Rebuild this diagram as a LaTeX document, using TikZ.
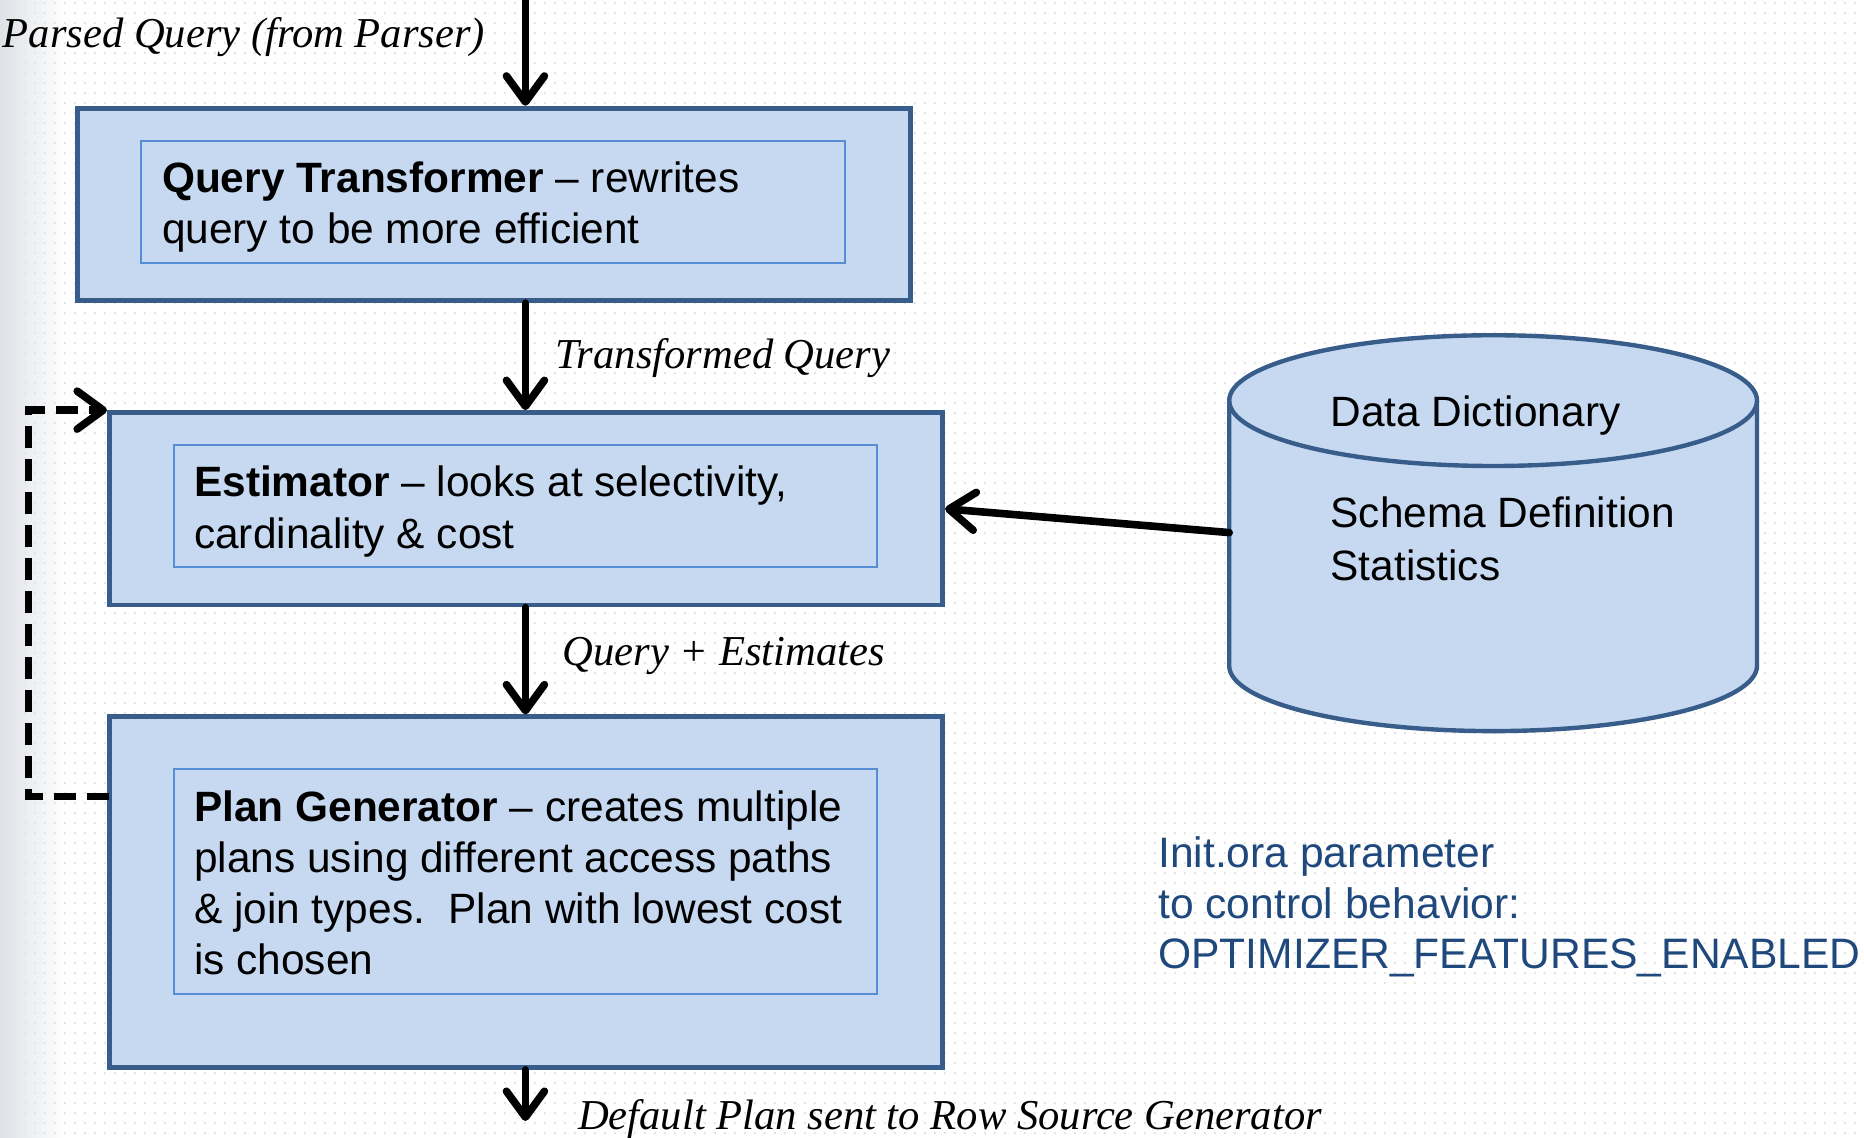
\documentclass[tikz,border=0pt]{standalone}
\usepackage{fontspec}
\setmainfont{Liberation Sans}
\newfontfamily\labelfont{Liberation Serif}
\usetikzlibrary{arrows.meta,patterns.meta,calc}
\definecolor{boxfill}{RGB}{198,217,241}
\definecolor{boxline}{RGB}{56,93,138}
\definecolor{innerline}{RGB}{85,142,213}
\definecolor{notecol}{RGB}{31,73,125}
\definecolor{edgegray}{RGB}{222,225,230}
\def\u{0.5944pt}
\tikzdeclarepattern{
  name=bgdots,
  type=uncolored,
  bounding box={(0pt,0pt) and (5pt,5pt)},
  tile size={(5pt,5pt)},
  code={\fill (2pt,2pt) rectangle (3pt,3pt);}
}
\tikzset{
  outerbox/.style={draw=boxline, line width=2.4pt, fill=boxfill, inner sep=0pt, minimum width=701*\u},
  innerbox/.style={draw=innerline, line width=1pt, fill=boxfill, inner sep=0pt, minimum width=592*\u},
  txt/.style={anchor=base west, inner sep=0pt, font=\fontsize{21.2}{25.5}\selectfont},
  lbl/.style={anchor=base west, inner sep=0pt, font=\fontsize{21.3}{25.5}\selectfont\labelfont\itshape},
  note/.style={txt, font=\fontsize{21.3}{25.5}\selectfont, text=notecol},
  flow/.style={line width=3.8pt, line cap=round, -{Straight Barb[length=13pt,width=19pt,round]}},
  feedback/.style={flow, line cap=butt, dash pattern=on 11pt off 5.5pt},
}
\begin{document}
\begin{tikzpicture}[x=0.5944pt,y=-0.5944pt]
\useasboundingbox (0,0) rectangle (1568,957);
% background
\fill[white] (0,0) rectangle (1568,957);
\shade[left color=edgegray, right color=white] (0,0) rectangle (55,957);
\fill[pattern=bgdots, pattern color=black!10] (0,0) rectangle (1568,957);

% boxes
\node[outerbox, minimum height=162*\u] (qt) at (415.5,172) {};
\node[innerbox, minimum height=102*\u] (qti) at (415,170) {};
\node[txt] (qt1) at (136,162) {\textbf{Query Transformer} -- rewrites};
\node[txt] (qt2) at (136,205) {query to be more efficient};

\node[outerbox, minimum height=162*\u] (est) at (442.5,428) {};
\node[innerbox, minimum height=103*\u] (esti) at (442,425.5) {};
\node[txt] (est1) at (163,418) {\textbf{Estimator} -- looks at selectivity,};
\node[txt] (est2) at (163,461) {cardinality \& cost};

\node[outerbox, minimum height=295*\u] (pg) at (442.5,750.5) {};
\node[innerbox, minimum height=189*\u] (pgi) at (442,741.5) {};
\node[txt] (pg1) at (163,691) {\textbf{Plan Generator} -- creates multiple};
\node[txt] (pg2) at (163,734) {plans using different access paths};
\node[txt] (pg3) at (163,777) {\& join types.\ \ Plan with lowest cost};
\node[txt] (pg4) at (163,820) {is chosen};

% cylinder
\fill[boxfill] (1034,337) -- (1034,560)
  arc[start angle=180, end angle=0, x radius=222, y radius=55]
  -- (1478,337)
  arc[start angle=0, end angle=-180, x radius=222, y radius=55] -- cycle;
\draw[boxline, line width=2.2pt] (1034,337) -- (1034,560)
  arc[start angle=180, end angle=0, x radius=222, y radius=55]
  -- (1478,337);
\draw[boxline, line width=2.2pt] (1256,337) ellipse[x radius=222, y radius=55];
\coordinate (dd) at (1034,448);
\node[txt] (dd1) at (1119,359) {Data Dictionary};
\node[txt] (dd2) at (1119,444) {Schema Definition};
\node[txt] (dd3) at (1119,488) {Statistics};

% note
\node[note] (n1) at (974,730) {Init.ora parameter};
\node[note] (n2) at (974,773) {to control behavior:};
\node[note] (n3) at (974,815) {OPTIMIZER\_FEATURES\_ENABLED};

% labels
\node[lbl] (l0) at (2,40) {Parsed Query (from Parser)};
\node[lbl] (l1) at (467,310) {Transformed Query};
\node[lbl] (l2) at (473,560) {Query + Estimates};
\node[lbl] (l3) at (486,950) {Default Plan sent to Row Source Generator};

% connectors
\coordinate (in) at (442,-3);
\coordinate (out) at (442,943);
\coordinate (fb) at (92,670);
\draw[flow] (in) -- (in |- qt.north);
\draw[flow] (qt.south -| in) -- (est.north -| in);
\draw[flow] (est.south -| in) -- (pg.north -| in);
\draw[flow] (pg.south -| in) -- (out);
\draw[flow] (dd) -- (est.east);
\draw[feedback] (fb) -- (24,670) |- (est.north west);
\end{tikzpicture}
\end{document}
